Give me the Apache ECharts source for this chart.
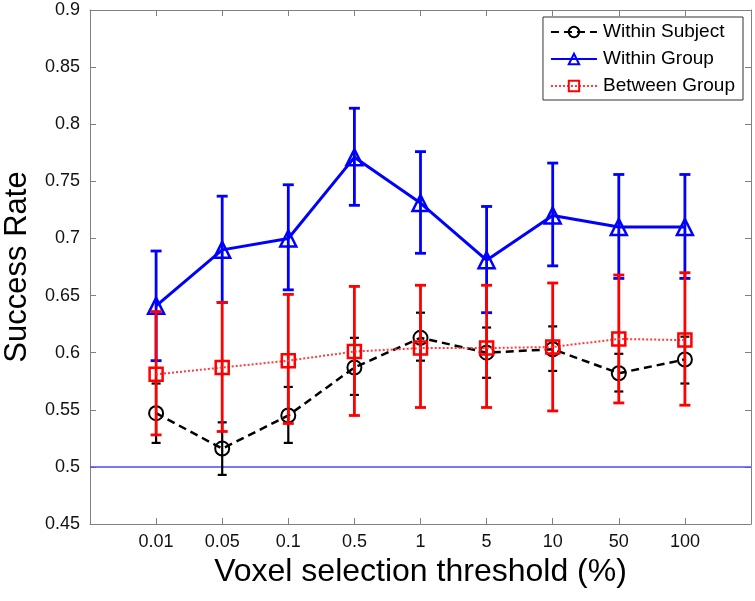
<!DOCTYPE html>
<html>
<head>
<meta charset="utf-8">
<script src="https://cdn.jsdelivr.net/npm/echarts@6/dist/echarts.min.js"></script>
<style>
html,body{margin:0;padding:0;background:#fff;}
#chart{width:755px;height:601px;}
</style>
</head>
<body>
<div id="chart"></div>
<script>
// ---- data ----
const xLabels = ['0.01','0.05','0.1','0.5','1','5','10','50','100'];
const seriesNames = ['Within Subject','Within Group','Between Group'];

const withinSubject   = [0.547,0.516,0.545,0.587,0.613,0.600,0.603,0.582,0.594];
const withinSubjectLo = [0.521,0.493,0.521,0.563,0.593,0.578,0.584,0.566,0.573];
const withinSubjectHi = [0.573,0.539,0.570,0.613,0.635,0.622,0.623,0.599,0.614];

const withinGroup   = [0.641,0.690,0.700,0.771,0.731,0.681,0.720,0.710,0.710];
const withinGroupLo = [0.593,0.644,0.655,0.729,0.687,0.635,0.676,0.665,0.665];
const withinGroupHi = [0.689,0.737,0.747,0.814,0.776,0.728,0.766,0.756,0.756];

const betweenGroup   = [0.581,0.587,0.593,0.601,0.604,0.604,0.605,0.612,0.611];
const betweenGroupLo = [0.528,0.531,0.538,0.545,0.552,0.552,0.549,0.556,0.554];
const betweenGroupHi = [0.636,0.644,0.651,0.658,0.659,0.659,0.661,0.668,0.670];

const chanceLevel = 0.5;
const yMin = 0.45, yMax = 0.9, yStep = 0.05;

// ---- helpers ----
const pos = i => i + 1;
const pts = arr => arr.map((v, i) => [pos(i), v]);
const bars = (lo, hi) => lo.map((v, i) => [pos(i), v, hi[i]]);

function errorBarSeries(lo, hi, color, width, cap, z) {
  return {
    type: 'custom',
    z: z,
    silent: true,
    data: bars(lo, hi),
    encode: { x: 0, y: [1, 2] },
    renderItem: function (params, api) {
      const x = api.value(0);
      const pLo = api.coord([x, api.value(1)]);
      const pHi = api.coord([x, api.value(2)]);
      const st = { stroke: color, lineWidth: width };
      return {
        type: 'group',
        children: [
          { type: 'line', shape: { x1: pLo[0], y1: pLo[1], x2: pHi[0], y2: pHi[1] }, style: st },
          { type: 'line', shape: { x1: pLo[0] - cap, y1: pLo[1], x2: pLo[0] + cap, y2: pLo[1] }, style: st },
          { type: 'line', shape: { x1: pHi[0] - cap, y1: pHi[1], x2: pHi[0] + cap, y2: pHi[1] }, style: st }
        ]
      };
    }
  };
}

const axisGray = '#808080';
const fontFam = '"Liberation Sans", Arial, Helvetica, sans-serif';

const chart = echarts.init(document.getElementById('chart'), null, { renderer: 'canvas' });

const option = {
  backgroundColor: '#ffffff',
  animation: false,
  textStyle: { fontFamily: fontFam, color: '#000' },
  grid: { left: 90, right: 4, top: 10, bottom: 77, outerBoundsMode: 'none', containLabel: false },
  legend: {
    data: seriesNames,
    orient: 'vertical',
    right: 12,
    top: 17,
    padding: [5, 8, 4, 7],
    itemGap: 7,
    itemWidth: 46,
    itemHeight: 13,
    backgroundColor: '#ffffff',
    borderColor: '#333',
    borderWidth: 1,
    borderRadius: 0,
    textStyle: { fontSize: 19, fontFamily: fontFam, color: '#000', lineHeight: 20, padding: [0, 0, 0, 1] }
  },
  xAxis: [
    {
      type: 'value', min: 0, max: 10, interval: 1,
      name: 'Voxel selection threshold (%)',
      nameLocation: 'middle', nameGap: 31,
      nameTextStyle: { fontSize: 32, fontFamily: fontFam, color: '#000' },
      axisLine: { show: true, onZero: false, lineStyle: { color: axisGray, width: 1 } },
      axisTick: { show: true, inside: true, length: 6, lineStyle: { color: axisGray } },
      axisLabel: {
        fontSize: 18, color: '#111', margin: 9, fontFamily: fontFam,
        formatter: v => (v >= 1 && v <= xLabels.length) ? xLabels[v - 1] : ''
      },
      splitLine: { show: false }
    },
    {
      type: 'value', min: 0, max: 10, interval: 1, position: 'top',
      axisLine: { show: true, onZero: false, lineStyle: { color: axisGray, width: 1 } },
      axisTick: { show: true, inside: true, length: 6, lineStyle: { color: axisGray } },
      axisLabel: { show: false },
      splitLine: { show: false }
    }
  ],
  yAxis: [
    {
      type: 'value', min: yMin, max: yMax, interval: yStep,
      name: 'Success Rate',
      nameLocation: 'middle', nameGap: 57, nameRotate: 90,
      nameTextStyle: { fontSize: 31, fontFamily: fontFam, color: '#000' },
      axisLine: { show: true, onZero: false, lineStyle: { color: axisGray, width: 1 } },
      axisTick: { show: true, inside: true, length: 6, lineStyle: { color: axisGray } },
      axisLabel: { fontSize: 18, color: '#111', margin: 10, fontFamily: fontFam },
      splitLine: { show: false }
    },
    {
      type: 'value', min: yMin, max: yMax, interval: yStep, position: 'right',
      axisLine: { show: true, onZero: false, lineStyle: { color: axisGray, width: 1 } },
      axisTick: { show: true, inside: true, length: 6, lineStyle: { color: axisGray } },
      axisLabel: { show: false },
      splitLine: { show: false }
    }
  ],
  series: [
    {
      name: 'chance', type: 'line', z: 1, silent: true,
      data: [[0, chanceLevel], [10, chanceLevel]],
      symbol: 'none',
      lineStyle: { color: '#4a4aff', width: 1.5 }
    },
    errorBarSeries(withinSubjectLo, withinSubjectHi, '#000000', 2.2, 4.5, 2),
    {
      name: seriesNames[0], type: 'line', z: 3,
      data: pts(withinSubject),
      symbol: 'circle', symbolSize: 14,
      itemStyle: { color: 'transparent', borderColor: '#000', borderWidth: 2 },
      lineStyle: { color: '#000', width: 2.5, type: [8, 5] }
    },
    errorBarSeries(withinGroupLo, withinGroupHi, '#0000ff', 2.8, 5.5, 4),
    {
      name: seriesNames[1], type: 'line', z: 5,
      data: pts(withinGroup),
      symbol: 'triangle', symbolSize: 16,
      itemStyle: { color: 'transparent', borderColor: '#0000ff', borderWidth: 2.5 },
      lineStyle: { color: '#0000ff', width: 3 }
    },
    errorBarSeries(betweenGroupLo, betweenGroupHi, '#ff0000', 2.8, 5.5, 6),
    {
      name: seriesNames[2], type: 'line', z: 7,
      data: pts(betweenGroup),
      symbol: 'rect', symbolSize: 13,
      itemStyle: { color: 'transparent', borderColor: '#ff0000', borderWidth: 2.5 },
      lineStyle: { color: '#ff3b3b', width: 2, type: 'dotted' }
    }
  ]
};

chart.setOption(option);
</script>
</body>
</html>
